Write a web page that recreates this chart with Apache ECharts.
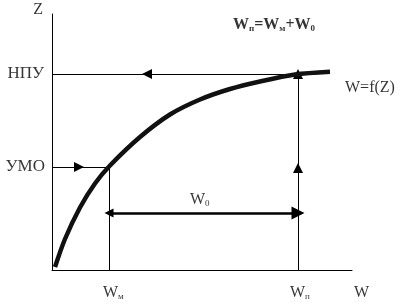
<!DOCTYPE html>
<html>
<head>
<meta charset="utf-8">
<script src="https://cdn.jsdelivr.net/npm/echarts@6/dist/echarts.min.js"></script>
<style>
html,body{margin:0;padding:0;background:#fff;}
#chart{width:405px;height:304px;}
</style>
</head>
<body>
<div id="chart"></div>
<script>
// Volume curve W = f(Z) (schematic units)
const curveW = [3, 13, 28, 43, 58, 88, 118, 148, 178, 208, 243, 278];
const curveZ = [3, 31, 62.5, 86.5, 104.5, 133, 155.5, 170.5, 181, 188.5, 195.5, 198.3];
// Levels
const levelNames = ['НПУ', 'УМО'];
const levelZ = [196, 103];
// Volumes
const volumeNames = ['Wм', 'Wп'];
const volumeW = [57, 246];
// W0 dimension arrow level
const w0Z = 57;
// axis ranges
const wMax = 300, zMax = 256;

const FONT = 'Liberation Serif';
const curveData = curveW.map((w, i) => [w, curveZ[i]]);
const npuZ = levelZ[0], umoZ = levelZ[1];
const wm = volumeW[0], wp = volumeW[1];

const thinLines = [
  {coords: [[0, npuZ], [wp, npuZ]]},
  {coords: [[0, umoZ], [wm, umoZ]]},
  {coords: [[wm, umoZ], [wm, 0]]},
  {coords: [[wp, npuZ], [wp, 0]]}
];
const thinArrows = [
  {coords: [[120, npuZ], [95, npuZ]]},
  {coords: [[5, umoZ], [27, umoZ]]},
  {coords: [[wp, 170], [wp, npuZ]]},
  {coords: [[wp, 80], [wp, 102]]}
];
const w0Arrow = [{coords: [[wm, w0Z], [wp, w0Z]]}];

const rich = {
  n: {fontFamily: FONT, fontSize: 16, color: '#000', lineHeight: 20},
  c: {fontFamily: FONT, fontSize: 17, color: '#000', lineHeight: 20},
  s: {fontFamily: FONT, fontSize: 9, color: '#000', lineHeight: 20, padding: [8, 0, 0, 0]},
  b: {fontFamily: FONT, fontSize: 16, fontWeight: 'bold', color: '#000', lineHeight: 20},
  bs: {fontFamily: FONT, fontSize: 9, fontWeight: 'bold', color: '#000', lineHeight: 20, padding: [8, 0, 0, 0]}
};
// text annotations: [W, Z, formatted text, align]
const texts = [
  [-9, 260, '{n|Z}', 'right'],
  [-8, npuZ, '{c|' + levelNames[0] + '}', 'right'],
  [-7, umoZ, '{c|' + levelNames[1] + '}', 'right'],
  [293, 182, '{n|W=f(Z)}', 'left'],
  [181, 245, '{b|W}{bs|п}{b|=W}{bs|м}{b|+W}{bs|0}', 'left'],
  [138, 70, '{n|W}{s|0}', 'left'],
  [51, -23, '{n|W}{s|м}', 'left'],
  [238, -23, '{n|W}{s|п}', 'left'],
  [302, -23, '{n|W}', 'left']
];

const chart = echarts.init(document.getElementById('chart'), null, {renderer: 'canvas'});
chart.setOption({
  animation: false,
  backgroundColor: '#fff',
  grid: {left: 52, top: 14, width: 300, height: 256, containLabel: false},
  xAxis: {
    type: 'value', min: 0, max: wMax,
    axisLine: {show: true, onZero: false, lineStyle: {color: '#000', width: 1}},
    axisTick: {show: false}, axisLabel: {show: false}, splitLine: {show: false}
  },
  yAxis: {
    type: 'value', min: 0, max: zMax,
    axisLine: {show: true, onZero: false, lineStyle: {color: '#000', width: 1}},
    axisTick: {show: false}, axisLabel: {show: false}, splitLine: {show: false}
  },
  series: [
    {
      type: 'lines', coordinateSystem: 'cartesian2d', silent: true,
      symbol: 'none', lineStyle: {color: '#000', width: 1, opacity: 1},
      data: thinLines
    },
    {
      type: 'lines', coordinateSystem: 'cartesian2d', silent: true,
      symbol: ['none', 'triangle'], symbolSize: [7, 10], symbolOffset: [0, 5],
      lineStyle: {color: '#000', width: 1, opacity: 1},
      data: thinArrows
    },
    {
      type: 'lines', coordinateSystem: 'cartesian2d', silent: true,
      symbol: ['triangle', 'triangle'], symbolSize: [9, 13], symbolOffset: [0, 6],
      lineStyle: {color: '#000', width: 2.5, opacity: 1},
      data: w0Arrow
    },
    {
      type: 'line', data: curveData, showSymbol: false, smooth: 0.3, silent: true,
      lineStyle: {color: '#111', width: 4.5, cap: 'butt'}
    },
    {
      type: 'scatter', symbolSize: 0, clip: false, silent: true,
      data: texts.map(t => ({value: [t[0], t[1]], label: {align: t[3]}})),
      label: {
        show: true, position: 'inside', verticalAlign: 'middle',
        formatter: p => texts[p.dataIndex][2], rich: rich
      }
    }
  ]
});
</script>
</body>
</html>
